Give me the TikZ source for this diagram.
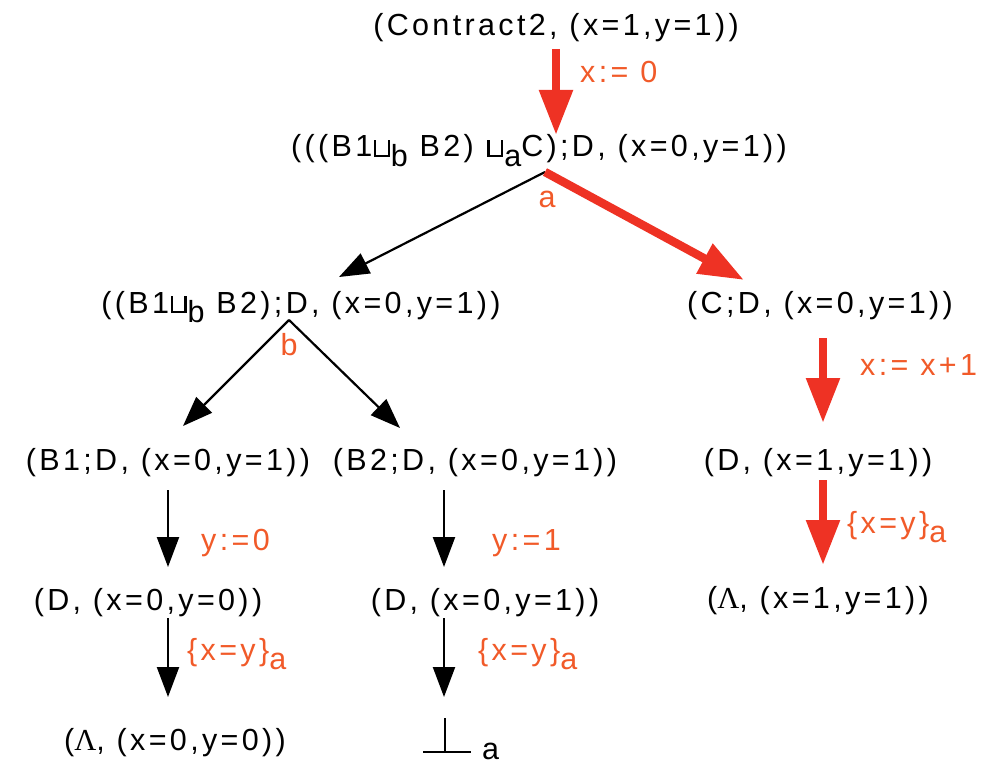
\documentclass[tikz,border=0pt]{standalone}
\usepackage{fontspec}
\setmainfont{Liberation Sans}[LetterSpace=11]
\newfontfamily\lamfont{Liberation Serif}
\usetikzlibrary{arrows.meta}
\definecolor{ared}{RGB}{238,50,36}
\definecolor{lred}{RGB}{241,90,41}
\newcommand{\sbs}[1]{\raisebox{-0.3em}{#1}}
\newcommand{\cupsym}{\kern0.05em\vrule height0.56em depth0pt width0.075em\kern-0.01em\rule{0.4em}{0.075em}\kern-0.01em\vrule height0.56em depth0pt width0.075em\kern0.03em}
\begin{document}
\begin{tikzpicture}[x=1pt,y=-1pt,
  st/.style={anchor=base, inner sep=0pt, font=\fontsize{30.5}{33}\selectfont},
  lab/.style={anchor=base west, inner sep=0pt, text=lred, font=\fontsize{30.5}{33}\selectfont},
  barr/.style={line width=2.2pt, -{Triangle[width=22pt,length=30pt]}},
  rarr/.style={ared, line width=8.5pt, -{Triangle[width=32pt,length=45pt]}},
  ]
\useasboundingbox (0,0) rectangle (993,765);
% state nodes
\node[st] (n1) at (556,36) {(Contract2, (x=1,y=1))};
\node[st] (n2) at (539,157) {(((B1\cupsym\sbs{b} B2) \cupsym\sbs{a}C);D, (x=0,y=1))};
\node[st] (n3) at (301,313) {((B1\cupsym\sbs{b} B2);D, (x=0,y=1))};
\node[st] (n4) at (820,313) {(C;D, (x=0,y=1))};
\node[st] (n5) at (168,470) {(B1;D, (x=0,y=1))};
\node[st] (n6) at (475,470) {(B2;D, (x=0,y=1))};
\node[st] (n7) at (818,470) {(D, (x=1,y=1))};
\node[st] (n8) at (148,610) {(D, (x=0,y=0))};
\node[st] (n9) at (485,610) {(D, (x=0,y=1))};
\node[st] (n10) at (818,608) {({\lamfont Λ}, (x=1,y=1))};
\node[st] (n11) at (175,750) {({\lamfont Λ}, (x=0,y=0))};
% bottom symbol
\coordinate (bt) at (445,718);
\coordinate (bb) at (445,752);
\coordinate (bl) at (423,752);
\coordinate (br) at (471,752);
\draw[line width=2.2pt] (bt) -- (bb) (bl) -- (br);
\node[st, anchor=base west] (bota) at (482,759) {a};
% coordinates for connectors
\coordinate (a1s) at (556,49);  \coordinate (a1e) at (556,135);
\coordinate (pa) at (545,172);
\coordinate (pal) at (339,277); \coordinate (par) at (744,280);
\coordinate (pb) at (289,320);
\coordinate (pbl) at (183,426); \coordinate (pbr) at (400,428);
\coordinate (r1s) at (823,338); \coordinate (r1e) at (823,423);
\coordinate (r2s) at (823,480); \coordinate (r2e) at (823,565);
\coordinate (l1s) at (168,490); \coordinate (l1e) at (168,567);
\coordinate (l2s) at (168,618); \coordinate (l2e) at (168,697);
\coordinate (m1s) at (444,490); \coordinate (m1e) at (444,567);
\coordinate (m2s) at (444,618); \coordinate (m2e) at (444,697);
% connectors
\draw[rarr] (a1s) -- (a1e);
\draw[barr] (pa) -- (pal);
\draw[rarr] (pa) -- (par);
\draw[barr] (pb) -- (pbl);
\draw[barr] (pb) -- (pbr);
\draw[rarr] (r1s) -- (r1e);
\draw[rarr] (r2s) -- (r2e);
\draw[barr] (l1s) -- (l1e);
\draw[barr] (l2s) -- (l2e);
\draw[barr] (m1s) -- (m1e);
\draw[barr] (m2s) -- (m2e);
% labels
\node[lab] (t1) at (580,83) {x:= 0};
\node[lab, anchor=base] (ta) at (547,207) {a};
\node[lab, anchor=base] (tb) at (289,355) {b};
\node[lab] (t2) at (860,375) {x:= x+1};
\node[lab] (t3) at (847,533) {\{x=y\}\sbs{a}};
\node[lab] (t4) at (201,550) {y:=0};
\node[lab] (t5) at (187,660) {\{x=y\}\sbs{a}};
\node[lab] (t6) at (492,550) {y:=1};
\node[lab] (t7) at (478,660) {\{x=y\}\sbs{a}};
\end{tikzpicture}
\end{document}
